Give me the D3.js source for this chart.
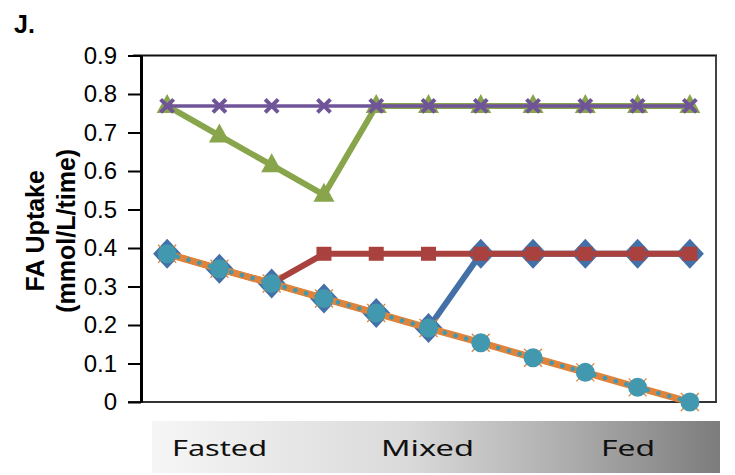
<!DOCTYPE html>
<html lang="en">
<head>
<meta charset="UTF-8">
<script src="https://d3js.org/d3.v7.min.js"></script>
<style>
  body { margin: 0; background: #fff; }
  svg { display: block; }
</style>
</head>
<body>
<div id="container"></div>
<script type="text/javascript">

// x categories (11 time steps, no labels on the axis)
const steps = [1, 2, 3, 4, 5, 6, 7, 8, 9, 10, 11];
const yTicks = [0, 0.1, 0.2, 0.3, 0.4, 0.5, 0.6, 0.7, 0.8, 0.9];
const phaseLabels = ["Fasted", "Mixed", "Fed"];

// series values
const blueVals   = [0.385, 0.346, 0.308, 0.269, 0.231, 0.192, 0.385, 0.385, 0.385, 0.385, 0.385];
const redVals    = [0.385, 0.346, 0.308, 0.385, 0.385, 0.385, 0.385, 0.385, 0.385, 0.385, 0.385];
const orangeVals = [0.385, 0.346, 0.308, 0.269, 0.231, 0.192, 0.154, 0.115, 0.077, 0.038, 0.000];
const tealVals   = [0.385, 0.346, 0.308, 0.269, 0.231, 0.192, 0.154, 0.115, 0.077, 0.038, 0.000];
const greenVals  = [0.769, 0.692, 0.615, 0.538, 0.769, 0.769, 0.769, 0.769, 0.769, 0.769, 0.769];
const purpleVals = [0.769, 0.769, 0.769, 0.769, 0.769, 0.769, 0.769, 0.769, 0.769, 0.769, 0.769];

const w = 735, h = 475;
const margin = { left: 141, right: 19, top: 55.5, bottom: 73 };

const svg = d3.select("#container")
    .append("svg")
    .attr("width", w)
    .attr("height", h);

const xScale = d3.scaleBand()
    .domain(steps)
    .range([margin.left, w - margin.right]);

const yScale = d3.scaleLinear()
    .domain([0, 0.9])
    .range([h - margin.bottom, margin.top]);

const cx = d => xScale(d) + xScale.bandwidth() / 2;

// panel letter
svg.append("text")
    .attr("x", 14)
    .attr("y", 33)
    .style("font-family", "Liberation Sans, Arial, sans-serif")
    .style("font-weight", "bold")
    .style("font-size", "25px")
    .text("J.");

// frame: top, right, bottom
const x0 = margin.left, x1 = w - margin.right;
const yTop = yScale(0.9), yBot = yScale(0);
svg.append("line").attr("x1", 133).attr("x2", x1 + 1).attr("y1", yTop).attr("y2", yTop)
    .attr("stroke", "#111").attr("stroke-width", 2);
svg.append("line").attr("x1", x1).attr("x2", x1).attr("y1", yTop).attr("y2", yBot)
    .attr("stroke", "#444").attr("stroke-width", 2);
svg.append("line").attr("x1", 128).attr("x2", x1 + 1).attr("y1", yBot).attr("y2", yBot)
    .attr("stroke", "#333").attr("stroke-width", 2);

// y axis
const yAxis = d3.axisLeft(yScale)
    .tickValues(yTicks)
    .tickFormat(d => d === 0 ? "0" : d3.format(".1f")(d))
    .tickSize(13)
    .tickSizeOuter(0)
    .tickPadding(11);

const yG = svg.append("g")
    .attr("transform", "translate(" + x0 + ",0)")
    .call(yAxis);
yG.select(".domain").attr("stroke", "#000").attr("stroke-width", 3);
yG.selectAll(".tick line").attr("stroke", "#000").attr("stroke-width", 2);
yG.selectAll(".tick text")
    .style("font-family", "Liberation Sans, Arial, sans-serif")
    .style("font-size", "24px")
    .attr("fill", "#000");

// y axis title
const yLab = svg.append("text")
    .attr("transform", "translate(44," + ((yTop + yBot) / 2 + 2) + ") rotate(-90)")
    .attr("text-anchor", "middle")
    .style("font-family", "Liberation Sans, Arial, sans-serif")
    .style("font-weight", "bold")
    .style("font-size", "25px");
yLab.append("tspan").attr("x", 0).attr("dy", 0).text("FA Uptake");
yLab.append("tspan").attr("x", 0).attr("dy", 31).text("(mmol/L/time)");

// bottom gradient band
const defs = svg.append("defs");
const grad = defs.append("linearGradient").attr("id", "phase");
grad.append("stop").attr("offset", "0%").attr("stop-color", "#f6f6f6");
grad.append("stop").attr("offset", "45%").attr("stop-color", "#dadada");
grad.append("stop").attr("offset", "75%").attr("stop-color", "#aaaaaa");
grad.append("stop").attr("offset", "100%").attr("stop-color", "#7c7c7c");

svg.append("rect")
    .attr("x", 152).attr("y", 421)
    .attr("width", 568).attr("height", 52)
    .attr("fill", "url(#phase)");

const phaseX = [172, 381, 601];
const phaseW = [95, 93, 54];
svg.selectAll(".phase")
    .data(phaseLabels)
    .enter()
    .append("text")
    .attr("class", "phase")
    .attr("x", (d, i) => phaseX[i])
    .attr("y", 456)
    .attr("textLength", (d, i) => phaseW[i])
    .attr("lengthAdjust", "spacingAndGlyphs")
    .style("font-family", "Noto Sans, Open Sans, sans-serif")
    .style("font-size", "22px")
    .attr("fill", "#111")
    .text(d => d);

// series
const line = d3.line()
    .x((d, i) => cx(steps[i]))
    .y(d => yScale(d));

function drawLine(vals, color, width, dash) {
    svg.append("path")
        .datum(vals)
        .attr("d", line)
        .attr("fill", "none")
        .attr("stroke", color)
        .attr("stroke-width", width)
        .attr("stroke-linecap", dash ? "round" : "butt")
        .attr("stroke-linejoin", "round")
        .attr("stroke-dasharray", dash || null);
}

function pathAt(vals, color, shape, extra) {
    const sel = svg.append("g")
        .selectAll("path")
        .data(vals)
        .enter()
        .append("path")
        .attr("transform", (d, i) => "translate(" + cx(steps[i]) + "," + yScale(d) + ")")
        .attr("d", shape);
    if (extra) extra(sel); else sel.attr("fill", color);
    return sel;
}

const diamond = "M0,-15L14,0L0,15L-14,0Z";
const square = "M-7.5,-7L7.5,-7L7.5,7L-7.5,7Z";
const triangle = "M0,-12L10.5,7L-10.5,7Z";
const cross = "M-6.5,-6.5L6.5,6.5M-6.5,6.5L6.5,-6.5";
const star = "M-9,-9L9,9M-9,9L9,-9";

// blue diamonds
drawLine(blueVals, "#4470a8", 6);
pathAt(blueVals, "#4470a8", diamond);

// red squares
drawLine(redVals, "#a9423f", 6);
pathAt(redVals, "#a9423f", square);

// orange solid with star markers
drawLine(orangeVals, "#e0843c", 7);
pathAt(orangeVals, "#e0843c", star, s => s.attr("fill", "none").attr("stroke", "#e0843c").attr("stroke-width", 1.3));

// teal dotted with circles
drawLine(tealVals, "#4198af", 4.5, "0.1 11");
svg.append("g")
    .selectAll("circle")
    .data(tealVals)
    .enter()
    .append("circle")
    .attr("cx", (d, i) => cx(steps[i]))
    .attr("cy", d => yScale(d))
    .attr("r", 9.5)
    .attr("fill", "#4198af");

// green triangles
drawLine(greenVals, "#88a54b", 6);
pathAt(greenVals, "#88a54b", triangle);

// purple crosses
drawLine(purpleVals, "#6f5597", 3.5);
pathAt(purpleVals, "#6f5597", cross, s => s.attr("fill", "none").attr("stroke", "#6f5597").attr("stroke-width", 4));

</script>
</body>
</html>
